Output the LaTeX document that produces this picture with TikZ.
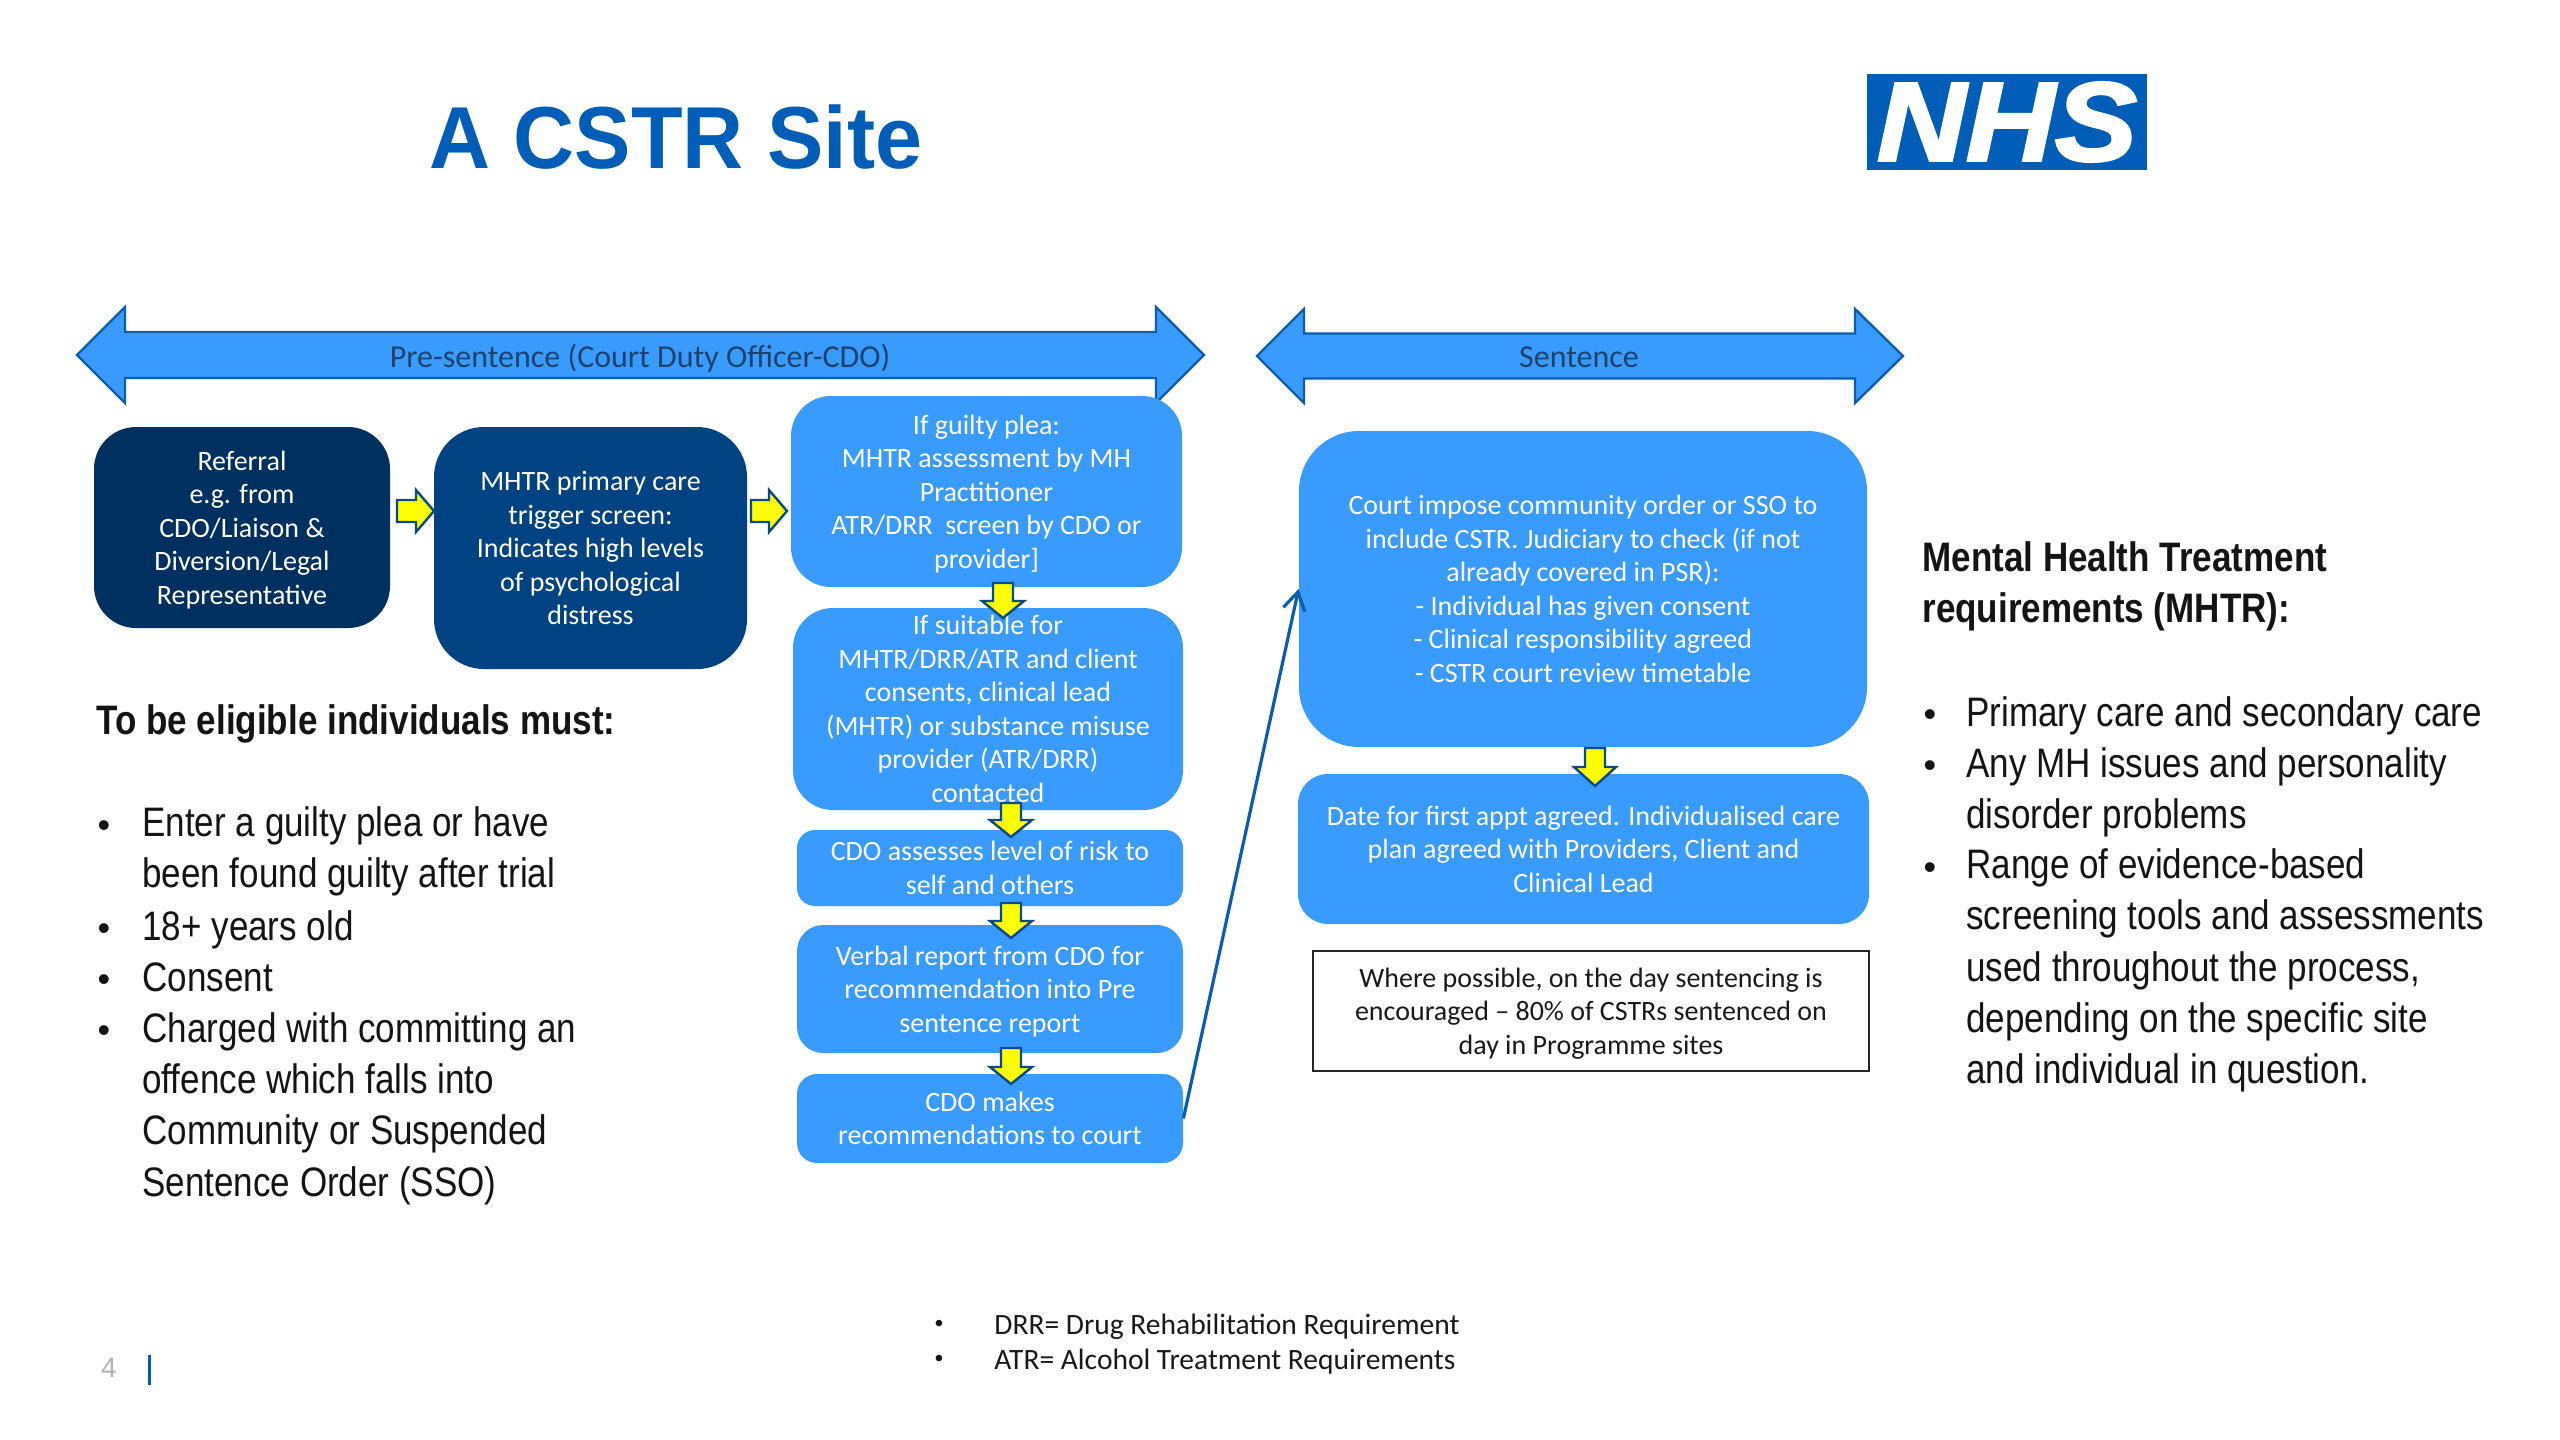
\documentclass[tikz,border=0pt]{standalone}
\usepackage{fontspec}
\setmainfont{Carlito}
\newfontfamily\narfont[FakeStretch=0.85]{Liberation Sans}
\newfontfamily\headfont{Liberation Sans}
\newfontfamily\titlefont[FakeStretch=0.96]{Liberation Sans}
\newfontfamily\nhsfont[BoldItalicFeatures={FakeBold=2.5,FakeStretch=1.1}]{Liberation Sans}
\definecolor{navyA}{HTML}{003060}
\definecolor{navyB}{HTML}{004282}
\definecolor{skyB}{HTML}{3A9BFF}
\definecolor{edgeB}{HTML}{0B5DAF}
\definecolor{nhsB}{HTML}{005EB8}
\definecolor{banT}{HTML}{1C4370}
\definecolor{yelA}{HTML}{FFFF00}
\tikzset{
  x=0.5pt,y=-0.5pt,
  boxbase/.style={rectangle,inner sep=0pt,align=center,text=white,
    font=\fontsize{14}{16.75}\selectfont},
  darkA/.style={boxbase,fill=navyA,rounded corners=21pt},
  darkB/.style={boxbase,fill=navyB,rounded corners=25pt},
  sky/.style={boxbase,fill=skyB,rounded corners=#1},
  sky/.default=20pt,
  notebox/.style={boxbase,fill=white,draw=black!85,line width=1pt,text=black!90,rounded corners=0pt},
  banner/.style={fill=skyB,draw=edgeB,line width=1.2pt,line join=miter},
  bantext/.style={text=banT,font=\fontsize{16}{18}\selectfont},
  yarrow/.style={fill=yelA,draw=edgeB!80!black,line width=1.2pt,line join=miter},
  conn/.style={draw=edgeB,line width=1.6pt,-{Straight Barb[length=9pt,width=11pt]}},
  bodytext/.style={inner sep=0pt,align=left,anchor=west,text=black!92,
    font=\narfont\fontsize{20.6}{25.65}\selectfont},
  bodyhead/.style={bodytext,font=\narfont\bfseries\fontsize{20.6}{25.65}\selectfont},
  bul/.style={inner sep=0pt,text=black!92,font=\headfont\fontsize{18}{25.65}\selectfont},
  foot/.style={inner sep=0pt,anchor=west,text=black!90,font=\fontsize{14.75}{16}\selectfont},
}
\usetikzlibrary{arrows.meta}
% style, name, x1, y1, x2, y2, text
\newcommand{\bx}[7]{%
  \pgfmathsetmacro\bxcx{(#3+#5)/2}\pgfmathsetmacro\bxcy{(#4+#6)/2}%
  \pgfmathsetmacro\bxw{(#5-#3)/2}\pgfmathsetmacro\bxh{(#6-#4)/2}%
  \node[#1,minimum width=\bxw pt,minimum height=\bxh pt] (#2) at (\bxcx,\bxcy) {\rule{0pt}{14.7pt}#7\strut};}
% cx, top, base, tip
\newcommand{\ydown}[4]{\draw[yarrow] ({#1-10},#2) -- ({#1+10},#2) -- ({#1+10},#3) -- ({#1+21},#3) -- (#1,#4) -- ({#1-21},#3) -- ({#1-10},#3) -- cycle;}
% left, base, tip, cy
\newcommand{\yright}[4]{\draw[yarrow] (#1,{#4-11}) -- (#2,{#4-11}) -- (#2,{#4-21}) -- (#3,#4) -- (#2,{#4+21}) -- (#2,{#4+11}) -- (#1,{#4+11}) -- cycle;}
% tipL, baseL, baseR, tipR, cy, headhalf, shafthalf
\newcommand{\banarrow}[7]{\draw[banner] (#1,#5) -- (#2,{#5-#6}) -- (#2,{#5-#7}) -- (#3,{#5-#7}) -- (#3,{#5-#6}) -- (#4,#5) -- (#3,{#5+#6}) -- (#3,{#5+#7}) -- (#2,{#5+#7}) -- (#2,{#5+#6}) -- cycle;}
\begin{document}
\begin{tikzpicture}
\useasboundingbox (0,0) rectangle (2560,1440);
\fill[white] (0,0) rectangle (2560,1440);
% title and logo
\node[inner sep=0pt,anchor=base west,text=nhsB,font=\titlefont\bfseries\fontsize{44}{50}\selectfont] (title) at (429,168) {A CSTR Site};
\node[rectangle,fill=nhsB,inner sep=0pt,text=white,minimum width=140pt,minimum height=48pt,font=\nhsfont\bfseries\itshape\fontsize{56}{56}\selectfont] (nhs) at (2007,122) {NHS};
% banners
\banarrow{77}{125}{1156}{1204}{355}{48}{23}
\node[bantext] (pre) at (640,358) {Pre-sentence (Court Duty Officer-CDO)};
\banarrow{1257}{1304}{1855}{1903}{356}{47}{22.5}
\node[bantext] (sen) at (1579,357) {Sentence};
% first row
\bx{darkA}{ref}{94}{427}{390}{628}{Referral\\e.g. from\\CDO/Liaison \&\\Diversion/Legal\\Representative}
\bx{darkB}{trig}{434}{427}{747}{669}{MHTR primary care\\trigger screen:\\Indicates high levels\\of psychological\\distress}
% centre column
\bx{sky=20pt}{guilty}{791}{396}{1182}{587}{If guilty plea:\\MHTR assessment by MH\\Practitioner\\ATR/DRR\ \ screen by CDO or\\provider]}
\node[sky=20pt,minimum width=195pt,minimum height=101pt] (suit) at (988,709) {If suitable for\\MHTR/DRR/ATR and client\\consents, clinical lead\\(MHTR) or substance misuse\\provider (ATR/DRR)\\contacted};
\bx{sky=9pt}{risk}{797}{830}{1183}{906}{CDO assesses level of risk to\\self and others}
\bx{sky=13pt}{verbal}{797}{925}{1183}{1053}{Verbal report from CDO for\\recommendation into Pre\\sentence report}
\bx{sky=10pt}{makes}{797}{1074}{1183}{1163}{CDO makes\\recommendations to court}
% right column
\bx{sky=30pt}{court}{1299}{431}{1867}{747}{Court impose community order or SSO to\\include CSTR. Judiciary to check (if not\\already covered in PSR):\\- Individual has given consent\\- Clinical responsibility agreed\\- CSTR court review timetable}
\bx{sky=15pt}{date}{1298}{774}{1869}{924}{Date for first appt agreed. Individualised care\\plan agreed with Providers, Client and\\Clinical Lead}
\bx{notebox}{note}{1313}{951}{1869}{1071}{Where possible, on the day sentencing is\\encouraged -- 80\% of CSTRs sentenced on\\day in Programme sites}
% yellow arrows
\yright{397}{416}{434}{511}
\yright{751}{769}{787}{511}
\ydown{1003}{583}{601}{618}
\ydown{1011}{803}{820}{837}
\ydown{1011}{903}{921}{938}
\ydown{1011}{1048}{1067}{1084}
\ydown{1595}{748}{767}{786}
% connector
\draw[conn] (makes.east) -- (court.west);
% left text
\node[bodyhead] (lhead) at (96,724) {\strut To be eligible individuals must:\strut};
\node[bul] (lb1) at (104,827) {\strut•\strut};
\node[bodytext] (l1) at (142,852) {\strut Enter a guilty plea or have\\been found guilty after trial\strut};
\node[bul] (lb2) at (104,930) {\strut•\strut};
\node[bodytext] (l2) at (142,930) {\strut 18+ years old\strut};
\node[bul] (lb3) at (104,981) {\strut•\strut};
\node[bodytext] (l3) at (142,981) {\strut Consent\strut};
\node[bul] (lb4) at (104,1032) {\strut•\strut};
\node[bodytext] (l4) at (142,1109) {\strut Charged with committing an\\offence which falls into\\Community or Suspended\\Sentence Order (SSO)\strut};
% right text
\node[bodyhead] (rhead) at (1922,587) {\strut Mental Health Treatment\\requirements (MHTR):\strut};
\node[bul] (rb1) at (1930,716) {\strut•\strut};
\node[bodytext] (r1) at (1966,716) {\strut Primary care and secondary care\strut};
\node[bul] (rb2) at (1930,767) {\strut•\strut};
\node[bodytext] (r2) at (1966,792.5) {\strut Any MH issues and personality\\disorder problems\strut};
\node[bul] (rb3) at (1930,869) {\strut•\strut};
\node[bodytext] (r3) at (1966,971) {\strut Range of evidence-based\\screening tools and assessments\\used throughout the process,\\depending on the specific site\\and individual in question.\strut};
% footer
\node[bul,font=\headfont\fontsize{12}{12}\selectfont] (fb1) at (939,1326) {•};
\node[foot] (f1) at (994,1328) {\strut DRR= Drug Rehabilitation Requirement};
\node[bul,font=\headfont\fontsize{12}{12}\selectfont] (fb2) at (939,1361) {•};
\node[foot] (f2) at (994,1363) {\strut ATR= Alcohol Treatment Requirements};
\node[inner sep=0pt,text=black!30,font=\headfont\fontsize{14}{14}\selectfont] (pg) at (109,1368) {4};
\fill[nhsB] (148,1355) rectangle (151,1385);
\end{tikzpicture}
\end{document}
